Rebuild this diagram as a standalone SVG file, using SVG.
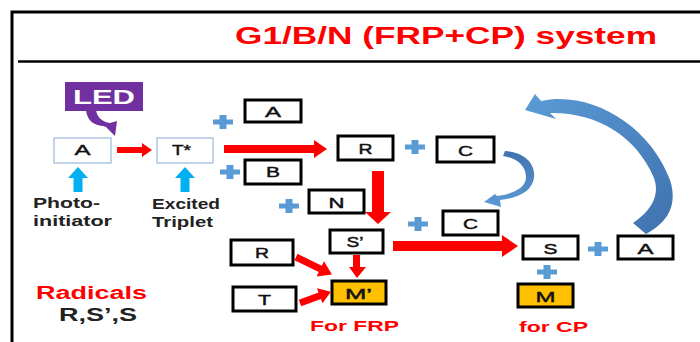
<svg xmlns="http://www.w3.org/2000/svg" xmlns:xlink="http://www.w3.org/1999/xlink" width="700" height="342" viewBox="0 0 700 342">
<style>
.bx{fill:#fff;stroke:#000;stroke-width:3}
.bl{fill:#fff;stroke:#9DB8D9;stroke-width:1.2}
.or{fill:#FFC000;stroke:#000;stroke-width:3}
.t{font-family:"Liberation Sans",Arial,sans-serif;font-size:15.5px;fill:#111;stroke:#111;stroke-width:0.45}
.lb{font-family:"Liberation Sans",Arial,sans-serif;font-weight:bold;font-size:14px;fill:#222}
.rd{font-family:"Liberation Sans",Arial,sans-serif;font-weight:bold;fill:#FF0000}
.ra{fill:#FF0000}
.pl{fill:#5B9BD5}
.ua{fill:#00B0F0}
.fr{fill:none;stroke:#000}
</style>
<defs>
<path id="plus" d="M-3.5,-7 h7 v4.5 h6.5 v5 h-6.5 v4.5 h-7 v-4.5 h-6.5 v-5 h6.5 z"/>
<path id="up" d="M0,0 L10,11 L4.5,11 L4.5,25 L-4.5,25 L-4.5,11 L-10,11 Z"/>
<linearGradient id="gb" x1="0" y1="0" x2="1" y2="1">
<stop offset="0" stop-color="#5B9BD5"/>
<stop offset="1" stop-color="#3F72AF"/>
</linearGradient>
<linearGradient id="gs" x1="0" y1="0" x2="0" y2="1">
<stop offset="0" stop-color="#4172AD"/>
<stop offset="1" stop-color="#5B9BD5"/>
</linearGradient>
</defs>

<g id="frame">
<path class="fr" stroke-width="3" d="M12,342 V12 H700"/>
<path class="fr" stroke-width="2.5" d="M18,61.5 H700"/>
<text class="rd" x="235" y="44" style="font-size:24px" textLength="422" lengthAdjust="spacingAndGlyphs">G1/B/N (FRP+CP) system</text>
</g>

<g id="led">
<rect x="65" y="82" width="78" height="29" fill="#7030A0"/>
<path fill="#7030A0" d="M86,110 C87,120 93,125 103,126 L106,127 L115,136 L117,121 L110,123 C102,122 97,117 96,110 Z"/>
<text x="73" y="104" font-family="Liberation Sans,Arial,sans-serif" font-weight="bold" font-size="21" fill="#fff" textLength="62" lengthAdjust="spacingAndGlyphs">LED</text>
</g>

<g id="nodeA">
<rect class="bl" x="54" y="138" width="57" height="25"/>
<text class="t" x="74.5" y="155" textLength="16" lengthAdjust="spacingAndGlyphs">A</text>
</g>
<g id="nodeT">
<rect class="bl" x="157" y="138" width="56" height="25"/>
<text class="t" x="172" y="155" textLength="19" lengthAdjust="spacingAndGlyphs">T*</text>
</g>
<g id="nodeAtop">
<rect class="bx" x="245" y="100" width="56" height="22"/>
<text class="t" x="265" y="117" textLength="16" lengthAdjust="spacingAndGlyphs">A</text>
</g>
<g id="nodeB">
<rect class="bx" x="245" y="160" width="56" height="24"/>
<text class="t" x="266" y="177" textLength="14" lengthAdjust="spacingAndGlyphs">B</text>
</g>
<g id="nodeR">
<rect class="bx" x="338" y="136" width="55" height="24"/>
<text class="t" x="358.5" y="154" textLength="14" lengthAdjust="spacingAndGlyphs">R</text>
</g>
<g id="nodeCtop">
<rect class="bx" x="437" y="137" width="57" height="25"/>
<text class="t" x="458" y="156" textLength="15" lengthAdjust="spacingAndGlyphs">C</text>
</g>
<g id="nodeN">
<rect class="bx" x="309" y="190" width="55" height="23"/>
<text class="t" x="328.5" y="208" textLength="16" lengthAdjust="spacingAndGlyphs">N</text>
</g>
<g id="nodeSp">
<rect class="bx" x="330" y="230" width="53" height="23"/>
<text class="t" x="346.5" y="247" textLength="17" lengthAdjust="spacingAndGlyphs">S’</text>
</g>
<g id="nodeClow">
<rect class="bx" x="443" y="211" width="55" height="24"/>
<text class="t" x="463" y="229" textLength="15" lengthAdjust="spacingAndGlyphs">C</text>
</g>
<g id="nodeS">
<rect class="bx" x="523" y="236" width="55" height="23"/>
<text class="t" x="543.5" y="254" textLength="14" lengthAdjust="spacingAndGlyphs">S</text>
</g>
<g id="nodeAright">
<rect class="bx" x="618" y="236" width="55" height="23"/>
<text class="t" x="637.5" y="254" textLength="16" lengthAdjust="spacingAndGlyphs">A</text>
</g>
<g id="nodeM">
<rect class="or" x="518" y="284" width="55" height="23"/>
<text class="t" x="535.5" y="302" textLength="20" lengthAdjust="spacingAndGlyphs">M</text>
</g>
<g id="nodeMp">
<rect class="or" x="332" y="281" width="54" height="23"/>
<text class="t" x="345" y="299" textLength="27" lengthAdjust="spacingAndGlyphs">M’</text>
</g>
<g id="nodeRlow">
<rect class="bx" x="231" y="240" width="62" height="25"/>
<text class="t" x="255" y="258" textLength="14" lengthAdjust="spacingAndGlyphs">R</text>
</g>
<g id="nodeTlow">
<rect class="bx" x="233" y="287" width="63" height="24"/>
<text class="t" x="258" y="305" textLength="13" lengthAdjust="spacingAndGlyphs">T</text>
</g>

<g id="labels">
<text class="lb" x="33" y="208" textLength="67" lengthAdjust="spacingAndGlyphs">Photo-</text>
<text class="lb" x="33" y="226" textLength="79" lengthAdjust="spacingAndGlyphs">initiator</text>
<text class="lb" x="152" y="209" textLength="68" lengthAdjust="spacingAndGlyphs">Excited</text>
<text class="lb" x="152" y="227" textLength="61" lengthAdjust="spacingAndGlyphs">Triplet</text>
<text class="rd" x="36" y="299" style="font-size:18px" textLength="111" lengthAdjust="spacingAndGlyphs">Radicals</text>
<text class="lb" x="59" y="321" style="font-size:18px" textLength="78" lengthAdjust="spacingAndGlyphs">R,S’,S</text>
<text class="rd" x="310" y="331" style="font-size:15px" textLength="89" lengthAdjust="spacingAndGlyphs">For FRP</text>
<text class="rd" x="519" y="332" style="font-size:15px" textLength="69" lengthAdjust="spacingAndGlyphs">for CP</text>
</g>

<g id="connectors">
<use href="#up" class="ua" x="78" y="167"/>
<use href="#up" class="ua" x="185" y="167"/>
<polygon class="ra" points="117,147 142,147 142,143 152,150 142,157 142,153 117,153"/>
<polygon class="ra" points="224,145 314,145 314,140 327,149 314,158 314,153 224,153"/>
<polygon class="ra" points="372,171 384,171 384,212 391,212 378,224 365,212 372,212"/>
<polygon class="ra" points="393,241 502,241 502,235 518,246 502,257 502,251 393,251"/>
<polygon class="ra" points="353,255 360,255 360,267 366,267 357,278 349,267 353,267"/>
<polygon class="ra" transform="translate(296,257) rotate(26)" points="0,-3.5 27,-3.5 27,-8.5 40,0 27,8.5 27,3.5 0,3.5"/>
<polygon class="ra" transform="translate(300,303) rotate(-20)" points="0,-3.5 21,-3.5 21,-8 33,0 21,8 21,3.5 0,3.5"/>
<use href="#plus" class="pl" x="223" y="122"/>
<use href="#plus" class="pl" x="230" y="172"/>
<use href="#plus" class="pl" x="289" y="206"/>
<use href="#plus" class="pl" x="415" y="147"/>
<use href="#plus" class="pl" x="418" y="224"/>
<use href="#plus" class="pl" x="598" y="249"/>
<use href="#plus" class="pl" x="547" y="272"/>
<path fill="url(#gs)" d="M505,151 C522,152 536,162 534,178 C532,191 519,198 500,200 L501,207 L484,202 L495,194 L497,196 C513,194 526,188 526,177 C526,166 517,158 503,156 Z"/>
<path fill="url(#gb)" d="M525,110 L535,94 L541,101 C590,90 650,125 670,180 C678,205 668,222 646,234 L633,223 C652,210 660,195 654,178 C636,135 595,112 550,113 L556,119 Z"/>
</g>
</svg>
